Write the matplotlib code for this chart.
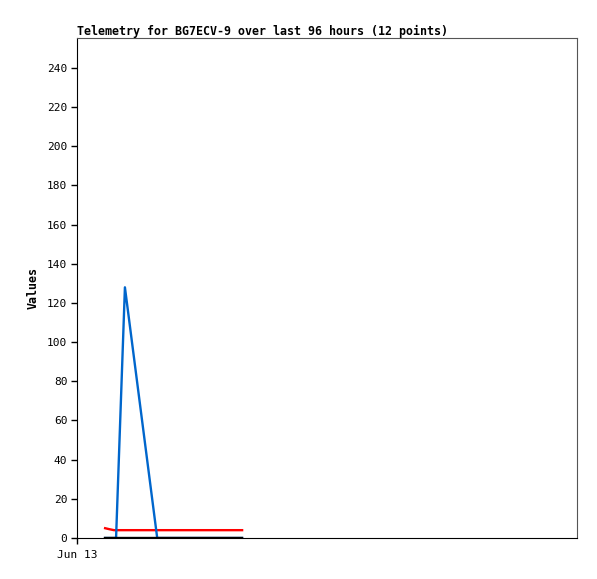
import matplotlib
matplotlib.use("Agg")
import matplotlib.pyplot as plt

# hours since Jun 13 00:00, 12 telemetry points
hours = [5.4, 6.2, 7.1, 7.5, 9.2, 15.4, 18.0, 21.0, 24.0, 27.0, 29.5, 31.7]
ch_red = [5, 4.5, 4, 4, 4, 4, 4, 4, 4, 4, 4, 4]
ch_blue = [0, 0, 0, 0, 128, 0, 0, 0, 0, 0, 0, 0]
ch_black = [0, 0, 0, 0, 0, 0, 0, 0, 0, 0, 0, 0]
x_ticks = [0]
x_labels = ["Jun 13"]
y_ticks = list(range(0, 260, 20))

font = "DejaVu Sans Mono"

fig = plt.figure(figsize=(5.97, 5.79), dpi=100)
ax = fig.add_axes([77 / 597, 41 / 579, 500 / 597, 500 / 579])

ax.plot(hours, ch_red, color="#ff0000", lw=1.7)
ax.plot(hours, ch_blue, color="#0066cc", lw=1.7)
ax.plot(hours, ch_black, color="#000000", lw=1.7)

ax.set_xlim(0, 96)
ax.set_ylim(0, 255.3)
ax.set_xticks(x_ticks)
ax.set_xticklabels(x_labels, fontfamily=font, fontsize=8)
ax.set_yticks(y_ticks)
ax.set_yticklabels([str(v) for v in y_ticks], fontfamily=font, fontsize=8)
ax.tick_params(axis="y", direction="out", length=4, width=1, pad=3)
ax.tick_params(axis="x", direction="out", length=4, width=1, pad=5)

for side in ["top", "right"]:
    ax.spines[side].set_color("#555555")
for side in ["left", "bottom"]:
    ax.spines[side].set_color("#000000")

ax.set_title("Telemetry for BG7ECV-9 over last 96 hours (12 points)",
             fontfamily=font, fontweight="bold", fontsize=8.4, loc="left", pad=2)
ax.set_ylabel("Values", fontfamily=font, fontweight="bold", fontsize=8.4, labelpad=5)

fig.savefig("out.png", dpi=100)
